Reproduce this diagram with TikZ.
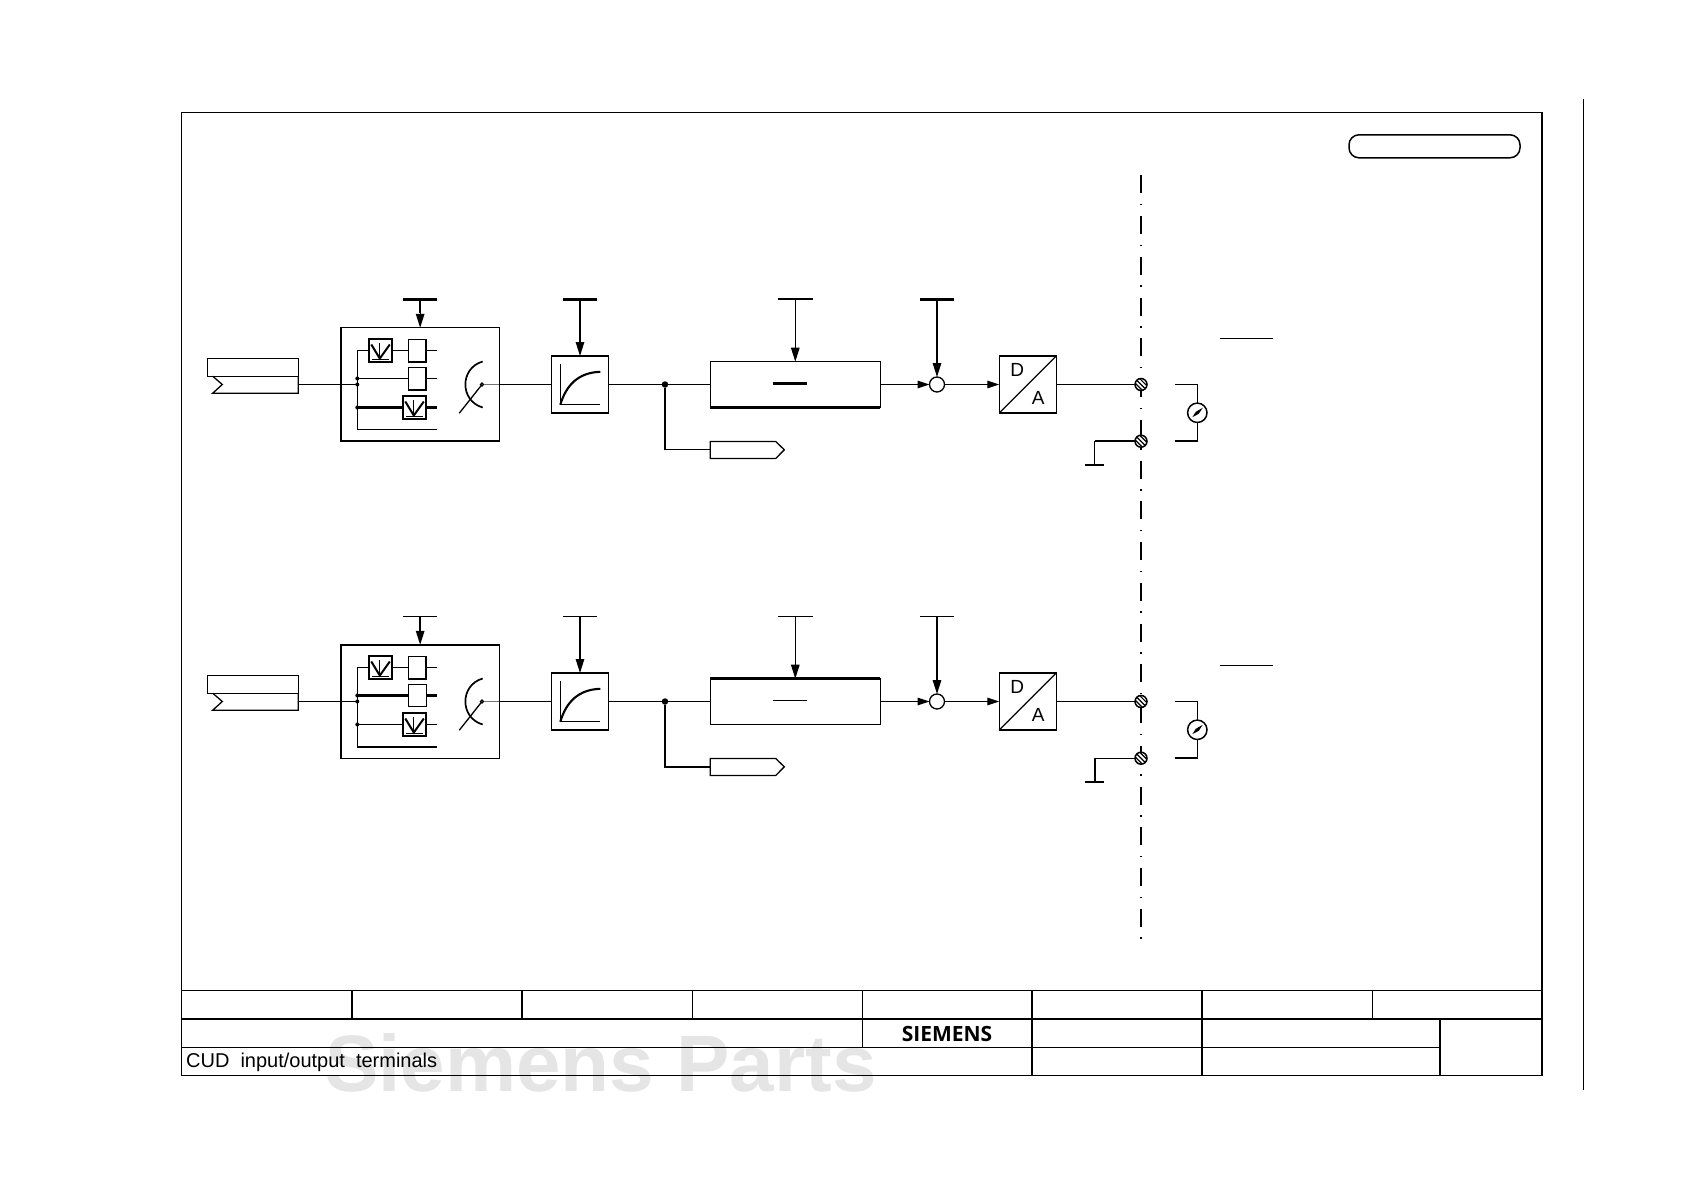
\documentclass[tikz,border=0pt]{standalone}
\usepackage{fontspec}
\setmainfont{Liberation Sans}
\newfontfamily\logofont{Open Sans}
\usetikzlibrary{arrows.meta,calc}
\tikzset{
  x=1pt,y=-1pt,
  thinl/.style={line width=1.3pt},
  medl/.style={line width=1.7pt},
  thickl/.style={line width=2.5pt},
  blk/.style={draw,line width=1.3pt,inner sep=0pt,outer sep=0pt,fill=white},
  head/.style={-{Triangle[length=14pt,width=8.5pt]}},
  heads/.style={-{Triangle[length=12pt,width=7.5pt]}},
  jdot/.style={circle,fill=black,inner sep=0pt,outer sep=0pt,minimum size=#1},
  terminal/.style={circle,draw,line width=1.5pt,fill=white,inner sep=0pt,outer sep=0pt,minimum size=12pt,
    path picture={
      \draw[line width=1.2pt] ($(path picture bounding box.center)+(-7,-7)$) -- ++(14,14);
      \draw[line width=1.2pt] ($(path picture bounding box.center)+(-4,-8.6)$) -- ++(14,14);
      \draw[line width=1.2pt] ($(path picture bounding box.center)+(-8.6,-4)$) -- ++(14,14);
    }},
  dalabel/.style={inner sep=0pt,font=\fontsize{19}{22}\selectfont},
}
\newcommand{\adcmark}[1]{%
  \draw[line width=2pt,shift={(#1.center)}] (-9.5,-6) -- (-1,8) -- (9,-6);
  \draw[thinl,shift={(#1.center)}] (-1,-7.3) -- (-1,8);
  \draw[thinl,shift={(#1.center)}] (-8.8,9) -- (8.2,9);
}
\newcommand{\sigrow}[2]{%
\begin{scope}[shift={(0,#2)}]
  % input connector
  \node[blk,minimum width=91pt,minimum height=17.4pt] (inA#1) at (252.8,367) {};
  \coordinate (inB#1) at (298.3,384);
  \draw[thinl,line join=miter] (inA#1.south east) -- (298.3,392.7) -- (212.7,392.7) -- (222.3,384) -- (212.7,375.7);
  % selector box
  \node[blk,minimum width=158.3pt,minimum height=113.4pt] (sel#1) at (420.15,384) {};
  \node[blk,minimum width=23pt,minimum height=22.6pt] (aa#1) at (380.8,350) {};
  \node[blk,minimum width=18pt,minimum height=22.6pt] (sa#1) at (417.3,350) {};
  \node[blk,minimum width=18pt,minimum height=22.6pt] (sb#1) at (417.3,378) {};
  \node[blk,minimum width=23pt,minimum height=22.6pt] (ab#1) at (414.8,407) {};
  \adcmark{aa#1}
  \adcmark{ab#1}
  \coordinate (busT#1) at (357.3,350);
  \coordinate (busB#1) at (357.3,429.3);
  \coordinate (busM#1) at (357.3,378);
  \coordinate (busI#1) at (357.3,384);
  \coordinate (busL#1) at (357.3,407);
  \coordinate (busE#1) at (437.3,429.3);
  \draw[thinl] (busB#1) -- (busT#1) -- (aa#1.west);
  \draw[thinl] (aa#1.east) -- (sa#1.west);
  \draw[thinl] (sa#1.east) -- ++(11,0);
  \draw[thinl] (busM#1) -- (sb#1.west);
  \draw[thinl] (sb#1.east) -- ++(11,0);
  \draw[thinl] (busL#1) -- (ab#1.west);
  \draw[thinl] (ab#1.east) -- ++(11,0);
  \draw[thinl] (busB#1) -- (busE#1);
  \draw[thinl] (inB#1) -- (busI#1);
  \node[jdot=4pt] (dA#1) at (busM#1) {};
  \node[jdot=4pt] (dB#1) at (busI#1) {};
  \node[jdot=4pt] (dC#1) at (busL#1) {};
  % switch
  \draw[medl] (482.7,361) .. controls (459.6,367.6) and (459.6,400.4) .. (482.7,407);
  \draw[thinl,fill=white] (459.3,412.7) -- (482,384);
  \node[circle,draw,thinl,fill=white,inner sep=0pt,outer sep=0pt,minimum size=3pt] (ptr#1) at (482,384) {};
  \draw[line width=1.8pt,black!55] (ptr#1.east) -- (sel#1.east);
  % ramp
  \node[blk,minimum width=56.6pt,minimum height=57pt] (ramp#1) at (580,384) {};
  \draw[thinl] (560.3,363.7) -- (560.3,404.3) -- (600.3,404.3);
  \draw[line width=2.1pt] (560.3,404.3) .. controls (566,385) and (578,372) .. (600.3,371.3);
  \draw[thinl] (sel#1.east) -- (ramp#1.west);
  % limiter
  \node[jdot=6.5pt] (jn#1) at (665,384) {};
  \node[blk,minimum width=170pt,minimum height=45.6pt] (lim#1) at (795.3,384) {};
  \draw[thinl] (ramp#1.east) -- (jn#1) -- (lim#1.west);
  \coordinate (dl#1) at (772.7,383);
  \coordinate (dr#1) at (806.7,383);
  \draw[thinl] (dl#1) -- (dr#1);
  % tag
  \coordinate (tag#1) at (710.3,449.3);
  \draw[thinl] (jn#1) |- (tag#1);
  \draw[thinl,line join=miter,fill=white] (710.3,441) -- (775.7,441) -- (784.3,449.3) -- (775.7,458) -- (710.3,458) -- cycle;
  % sum and D/A
  \node[circle,draw,thinl,fill=white,inner sep=0pt,outer sep=0pt,minimum size=15pt] (sum#1) at (937,384) {};
  \node[blk,minimum width=57pt,minimum height=57pt] (da#1) at (1027.8,384) {};
  \draw[thinl] (da#1.south west) -- (da#1.north east);
  \node[dalabel] (dD#1) at (1017.3,369.3) {D};
  \node[dalabel] (dN#1) at (1038.3,397.3) {A};
  \draw[thinl,heads] (lim#1.east) -- (sum#1.west);
  \draw[thinl,heads] (sum#1.east) -- (da#1.west);
  % T-bars
  \coordinate (tsel#1) at (420.15,299);
  \coordinate (tramp#1) at (580,299);
  \coordinate (tlim#1) at (795.3,299);
  \coordinate (tsum#1) at (937,299);
  \foreach \t in {tsel,tramp,tlim,tsum}{
    \draw[thinl] ($(\t#1)+(-17.2,0)$) -- ($(\t#1)+(17.2,0)$);
  }
  \draw[thinl,head] (tsel#1) -- (sel#1.north);
  \draw[thinl,head] (tramp#1) -- (ramp#1.north);
  \draw[thinl,head] (tlim#1) -- (lim#1.north);
  \draw[thinl,head] (tsum#1) -- (sum#1.north);
  % terminals
  \node[terminal] (ta#1) at (1141,384) {};
  \node[terminal] (tb#1) at (1141,440.7) {};
  \draw[thinl] (da#1.east) -- (ta#1.west);
  \coordinate (gnd#1) at (1094.5,464);
  \draw[thinl] (tb#1.west) -| (gnd#1);
  \draw[line width=2pt] ($(gnd#1)+(-9.2,0)$) -- ($(gnd#1)+(9.2,0)$);
  % meter
  \node[circle,draw,line width=1.5pt,fill=white,inner sep=0pt,outer sep=0pt,minimum size=19.4pt] (mtr#1) at (1197.3,412.3) {};
  \coordinate (mA#1) at (1174.7,384);
  \coordinate (mB#1) at (1174.7,440.5);
  \draw[thinl] (mA#1) -| (mtr#1.north);
  \draw[thinl] (mB#1) -| (mtr#1.south);
  \fill[shift={(mtr#1.center)}] (-5,4.4) -- (-1.5,-1) -- (5.4,-5) -- (1.5,1) -- cycle;
\end{scope}}
\begin{document}
\begin{tikzpicture}
  \useasboundingbox (0,0) rectangle (1684,1190);
  \fill[white] (0,0) rectangle (1684,1190);
  % watermark
  \node[anchor=base west,inner sep=0pt,text=black!10] (wm) at (325,1091)
    {\fontsize{80}{90}\selectfont\bfseries Siemens Parts};
  % frame
  \draw[line width=1.4pt] (181.6,112.5) rectangle (1542,1075.3);
  \coordinate (rTop) at (1583.5,99);
  \coordinate (rBot) at (1583.5,1090.3);
  \draw[line width=1.2pt] (rTop) -- (rBot);
  \node[draw,line width=1.5pt,rounded corners=10pt,inner sep=0pt,minimum width=171pt,minimum height=23pt] (pill) at (1434.5,146.3) {};
  % title block
  \draw[line width=1.4pt] (181.6,990.3) -- (1542,990.3);
  \draw[line width=2.4pt] (181.6,1019) -- (1542,1019);
  \draw[line width=1.3pt] (181.6,1047.3) -- (1439.7,1047.3);
  \draw[line width=1.8pt] (352.3,990.3) -- (352.3,1019);
  \draw[line width=1.8pt] (522,990.3) -- (522,1019);
  \draw[line width=1.3pt] (692.5,990.3) -- (692.5,1019);
  \draw[line width=1.3pt] (862.7,990.3) -- (862.7,1047.3);
  \draw[line width=1.8pt] (1032,990.3) -- (1032,1075.3);
  \draw[line width=1.8pt] (1202,990.3) -- (1202,1075.3);
  \draw[line width=1.3pt] (1372.3,990.3) -- (1372.3,1019);
  \draw[line width=1.8pt] (1439.7,1019) -- (1439.7,1075.3);
  \node[anchor=base,inner sep=0pt] (logo) at (947,1041)
    {\logofont\bfseries\fontsize{21}{24}\selectfont SIEMENS};
  \node[anchor=base west,inner sep=0pt] (title) at (186,1067.5)
    {\fontsize{20}{24}\selectfont CUD\hspace{11pt}input/output\hspace{11pt}terminals};
  % separator
  \coordinate (sepT) at (1141.3,175.3);
  \coordinate (sepB) at (1141.3,941);
  \draw[line width=2.2pt,dash pattern=on 18pt off 10.5pt on 1.5pt off 10.75pt] (sepT) -- (sepB);
  % rows
  \sigrow{a}{0.5}
  \sigrow{b}{317.5}
  % free wires above the meters
  \coordinate (wAl) at (1220,338.5);
  \coordinate (wAr) at (1272.7,338.5);
  \coordinate (wBl) at (1220,665.5);
  \coordinate (wBr) at (1272.7,665.5);
  \draw[thinl] (wAl) -- (wAr);
  \draw[thinl] (wBl) -- (wBr);
  % heavier strokes, row 1
  \draw[thickl] (sela.south west) -- (sela.south east);
  \draw[line width=2pt] (aaa.south west) rectangle (aaa.north east);
  \draw[line width=2pt] (aba.south west) rectangle (aba.north east);
  \draw[line width=2pt] (saa.north east) -- (saa.south east) -- (saa.south west);
  \draw[line width=2pt] (sba.north east) -- (sba.south east) -- (sba.south west);
  \draw[thickl] (busLa) -- (aba.west);
  \draw[thickl] (aba.east) -- ++(11,0);
  \draw[line width=2.2pt] ($(tsela)+(-17.2,0)$) -- ($(tsela)+(17.2,0)$);
  \draw[line width=2.2pt] (tsela) -- ++(0,14);
  \draw[line width=2.2pt] ($(trampa)+(-17.2,0)$) -- ($(trampa)+(17.2,0)$);
  \draw[line width=2.2pt] (trampa) -- ++(0,42);
  \draw[line width=2pt] ($(tlima)+(-17.2,0)$) -- ($(tlima)+(17.2,0)$);
  \draw[line width=2.2pt] ($(tsuma)+(-17.2,0)$) -- ($(tsuma)+(17.2,0)$);
  \draw[line width=2.2pt] (tsuma) -- ++(0,60);
  \draw[thickl] (lima.south west) -- (lima.south east);
  \draw[line width=2.2pt] (dla) -- (dra);
  \draw[line width=2.2pt] (jna) -- (taga-|jna);
  \draw[thickl] (tba.west) -- (gnda|-tba.west);
  % heavier strokes, row 2
  \draw[thickl] (selb.north west) -- (selb.north east);
  \draw[line width=2pt] (aab.south west) rectangle (aab.north east);
  \draw[line width=2pt] (abb.south west) rectangle (abb.north east);
  \draw[line width=2pt] (sab.north east) -- (sab.south east) -- (sab.south west);
  \draw[thickl] (busMb) -- (sbb.west);
  \draw[thickl] (sbb.east) -- ++(11,0);
  \draw[thickl] (busBb) -- (busEb);
  \draw[line width=2.2pt] (tselb) -- ++(0,14);
  \draw[line width=2.2pt] (trampb) -- ++(0,42);
  \draw[line width=2.2pt] (tsumb) -- ++(0,60);
  \draw[thickl] (rampb.south west) -- (rampb.south east);
  \draw[thickl] (limb.north west) -- (limb.north east);
  \draw[line width=2.2pt] (jnb) |- (tagb);
  \draw[line width=2pt] (gndb) -- (gndb|-tbb.west);
  \draw[thickl] (mBb) -- (mBb-|mtrb.south);
\end{tikzpicture}
\end{document}
